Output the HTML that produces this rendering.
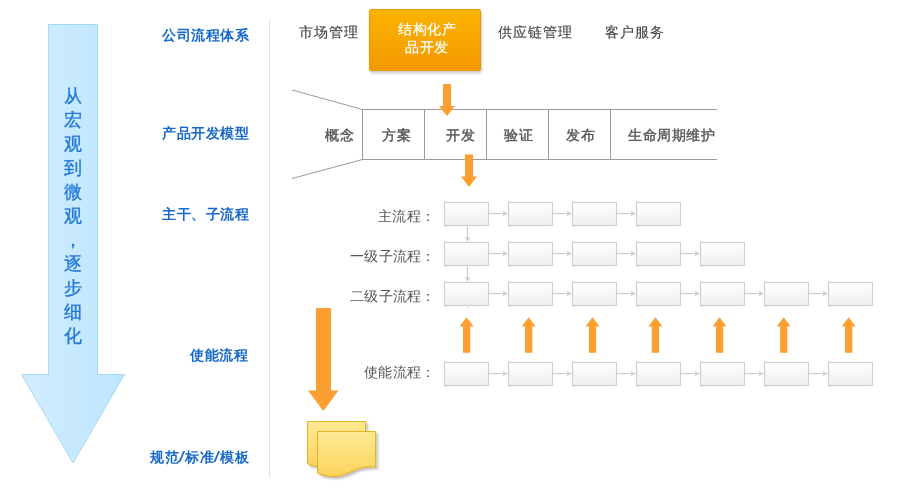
<!DOCTYPE html>
<html><head><meta charset="utf-8">
<style>
html,body{margin:0;padding:0;background:#fff;}
body{width:900px;height:500px;position:relative;overflow:hidden;font-family:"Liberation Sans",sans-serif;}
.t{position:absolute;white-space:nowrap;font-size:14px;line-height:14px;will-change:transform;}
.lbl{color:#1769cc;font-weight:bold;letter-spacing:0.6px;}
.nav{color:#444;letter-spacing:1px;-webkit-text-stroke:0.15px #444;}
.sl{display:inline-block;font-weight:normal;transform:scale(1.7,1.08);margin:0 0.5px 0 0.8px;}
.wt{color:#fff;letter-spacing:1.2px;-webkit-text-stroke:0.25px #fff;}
.stg{color:#555;letter-spacing:1px;-webkit-text-stroke:0.4px #555;}
.row{color:#555;letter-spacing:0.3px;}
svg{position:absolute;left:0;top:0;}
</style></head><body>
<svg width="900" height="500" viewBox="0 0 900 500">
<defs>
<linearGradient id="gBlue" x1="0" y1="0" x2="1" y2="0">
<stop offset="0" stop-color="#d3edfe"/><stop offset="1" stop-color="#bce6fe"/>
</linearGradient>
<linearGradient id="gOr" x1="0" y1="0" x2="0" y2="1">
<stop offset="0" stop-color="#fcb300"/><stop offset="1" stop-color="#f29800"/>
</linearGradient>
<linearGradient id="gBox" x1="0" y1="0" x2="0" y2="1">
<stop offset="0" stop-color="#ffffff"/><stop offset="1" stop-color="#eeeeee"/>
</linearGradient>
<linearGradient id="gDoc" x1="0" y1="0" x2="0" y2="1">
<stop offset="0" stop-color="#fee993"/><stop offset="1" stop-color="#fbd35c"/>
</linearGradient>
<filter id="sh" x="-20%" y="-20%" width="150%" height="150%">
<feGaussianBlur in="SourceAlpha" stdDeviation="1.5"/><feOffset dx="1" dy="2"/>
<feComponentTransfer><feFuncA type="linear" slope="0.22"/></feComponentTransfer>
<feMerge><feMergeNode/><feMergeNode in="SourceGraphic"/></feMerge>
</filter>
<filter id="sh2" x="-20%" y="-20%" width="150%" height="150%">
<feGaussianBlur in="SourceAlpha" stdDeviation="1"/><feOffset dx="1.5" dy="2"/>
<feComponentTransfer><feFuncA type="linear" slope="0.25"/></feComponentTransfer>
<feMerge><feMergeNode/><feMergeNode in="SourceGraphic"/></feMerge>
</filter>
</defs>
<!-- big blue arrow -->
<path d="M48.5 24.5 H97.5 V374.5 H124.5 L73 463 L21.5 374.5 H48.5 Z" fill="url(#gBlue)" stroke="#a6d9f4" stroke-width="1"/>
<!-- vertical divider -->
<line x1="269.5" y1="20" x2="269.5" y2="478" stroke="#e2e2e2" stroke-width="1"/>
<!-- orange box -->
<rect x="369.5" y="9.5" width="111" height="61" rx="1.5" fill="url(#gOr)" stroke="#e99606" stroke-width="1" filter="url(#sh)"/>
<!-- funnel -->
<g stroke="#9a9a9a" stroke-width="1" fill="none">
<line x1="292" y1="90" x2="362.5" y2="109.5"/>
<line x1="292" y1="178.5" x2="362.5" y2="159.5"/>
<path d="M717 109.5 H362.5 V159.5 H717"/>
<line x1="424.5" y1="109.5" x2="424.5" y2="159.5"/>
<line x1="486.5" y1="109.5" x2="486.5" y2="159.5"/>
<line x1="548.5" y1="109.5" x2="548.5" y2="159.5"/>
<line x1="610.5" y1="109.5" x2="610.5" y2="159.5"/>
</g>
<!-- orange down arrows -->
<path d="M443 84 H451 V106 H455 L447 116 L439 106 H443 Z" fill="#fa9f30"/>
<path d="M465 154.5 H473 V176.5 H477 L469 187 L461 176.5 H465 Z" fill="#fa9f30"/>
<path d="M316 308 H331 V390.5 H338.5 L323.3 411 L308 390.5 H316 Z" fill="#fa9f30"/>
<g id="procs">
<rect x="444.5" y="202.5" width="44" height="23" fill="url(#gBox)" stroke="#d0d0d0" stroke-width="1.2"/>
<line x1="489" y1="213.5" x2="506" y2="213.5" stroke="#cdcdcd" stroke-width="1.2"/>
<path d="M502.5 210.5 L508 213.5 L502.5 216.5 L504 213.5 Z" fill="#cdcdcd"/>
<rect x="508.5" y="202.5" width="44" height="23" fill="url(#gBox)" stroke="#d0d0d0" stroke-width="1.2"/>
<line x1="553" y1="213.5" x2="570" y2="213.5" stroke="#cdcdcd" stroke-width="1.2"/>
<path d="M566.5 210.5 L572 213.5 L566.5 216.5 L568 213.5 Z" fill="#cdcdcd"/>
<rect x="572.5" y="202.5" width="44" height="23" fill="url(#gBox)" stroke="#d0d0d0" stroke-width="1.2"/>
<line x1="617" y1="213.5" x2="634" y2="213.5" stroke="#cdcdcd" stroke-width="1.2"/>
<path d="M630.5 210.5 L636 213.5 L630.5 216.5 L632 213.5 Z" fill="#cdcdcd"/>
<rect x="636.5" y="202.5" width="44" height="23" fill="url(#gBox)" stroke="#d0d0d0" stroke-width="1.2"/>
<rect x="444.5" y="242.5" width="44" height="23" fill="url(#gBox)" stroke="#d0d0d0" stroke-width="1.2"/>
<line x1="489" y1="253.5" x2="506" y2="253.5" stroke="#cdcdcd" stroke-width="1.2"/>
<path d="M502.5 250.5 L508 253.5 L502.5 256.5 L504 253.5 Z" fill="#cdcdcd"/>
<rect x="508.5" y="242.5" width="44" height="23" fill="url(#gBox)" stroke="#d0d0d0" stroke-width="1.2"/>
<line x1="553" y1="253.5" x2="570" y2="253.5" stroke="#cdcdcd" stroke-width="1.2"/>
<path d="M566.5 250.5 L572 253.5 L566.5 256.5 L568 253.5 Z" fill="#cdcdcd"/>
<rect x="572.5" y="242.5" width="44" height="23" fill="url(#gBox)" stroke="#d0d0d0" stroke-width="1.2"/>
<line x1="617" y1="253.5" x2="634" y2="253.5" stroke="#cdcdcd" stroke-width="1.2"/>
<path d="M630.5 250.5 L636 253.5 L630.5 256.5 L632 253.5 Z" fill="#cdcdcd"/>
<rect x="636.5" y="242.5" width="44" height="23" fill="url(#gBox)" stroke="#d0d0d0" stroke-width="1.2"/>
<line x1="681" y1="253.5" x2="698" y2="253.5" stroke="#cdcdcd" stroke-width="1.2"/>
<path d="M694.5 250.5 L700 253.5 L694.5 256.5 L696 253.5 Z" fill="#cdcdcd"/>
<rect x="700.5" y="242.5" width="44" height="23" fill="url(#gBox)" stroke="#d0d0d0" stroke-width="1.2"/>
<rect x="444.5" y="282.5" width="44" height="23" fill="url(#gBox)" stroke="#d0d0d0" stroke-width="1.2"/>
<line x1="489" y1="293.5" x2="506" y2="293.5" stroke="#cdcdcd" stroke-width="1.2"/>
<path d="M502.5 290.5 L508 293.5 L502.5 296.5 L504 293.5 Z" fill="#cdcdcd"/>
<rect x="508.5" y="282.5" width="44" height="23" fill="url(#gBox)" stroke="#d0d0d0" stroke-width="1.2"/>
<line x1="553" y1="293.5" x2="570" y2="293.5" stroke="#cdcdcd" stroke-width="1.2"/>
<path d="M566.5 290.5 L572 293.5 L566.5 296.5 L568 293.5 Z" fill="#cdcdcd"/>
<rect x="572.5" y="282.5" width="44" height="23" fill="url(#gBox)" stroke="#d0d0d0" stroke-width="1.2"/>
<line x1="617" y1="293.5" x2="634" y2="293.5" stroke="#cdcdcd" stroke-width="1.2"/>
<path d="M630.5 290.5 L636 293.5 L630.5 296.5 L632 293.5 Z" fill="#cdcdcd"/>
<rect x="636.5" y="282.5" width="44" height="23" fill="url(#gBox)" stroke="#d0d0d0" stroke-width="1.2"/>
<line x1="681" y1="293.5" x2="698" y2="293.5" stroke="#cdcdcd" stroke-width="1.2"/>
<path d="M694.5 290.5 L700 293.5 L694.5 296.5 L696 293.5 Z" fill="#cdcdcd"/>
<rect x="700.5" y="282.5" width="44" height="23" fill="url(#gBox)" stroke="#d0d0d0" stroke-width="1.2"/>
<line x1="745" y1="293.5" x2="762" y2="293.5" stroke="#cdcdcd" stroke-width="1.2"/>
<path d="M758.5 290.5 L764 293.5 L758.5 296.5 L760 293.5 Z" fill="#cdcdcd"/>
<rect x="764.5" y="282.5" width="44" height="23" fill="url(#gBox)" stroke="#d0d0d0" stroke-width="1.2"/>
<line x1="809" y1="293.5" x2="826" y2="293.5" stroke="#cdcdcd" stroke-width="1.2"/>
<path d="M822.5 290.5 L828 293.5 L822.5 296.5 L824 293.5 Z" fill="#cdcdcd"/>
<rect x="828.5" y="282.5" width="44" height="23" fill="url(#gBox)" stroke="#d0d0d0" stroke-width="1.2"/>
<rect x="444.5" y="362.5" width="44" height="23" fill="url(#gBox)" stroke="#d0d0d0" stroke-width="1.2"/>
<line x1="489" y1="373.5" x2="506" y2="373.5" stroke="#d2d2d2" stroke-width="1.2"/>
<path d="M502.5 370.5 L508 373.5 L502.5 376.5 L504 373.5 Z" fill="#d2d2d2"/>
<rect x="508.5" y="362.5" width="44" height="23" fill="url(#gBox)" stroke="#d0d0d0" stroke-width="1.2"/>
<line x1="553" y1="373.5" x2="570" y2="373.5" stroke="#d2d2d2" stroke-width="1.2"/>
<path d="M566.5 370.5 L572 373.5 L566.5 376.5 L568 373.5 Z" fill="#d2d2d2"/>
<rect x="572.5" y="362.5" width="44" height="23" fill="url(#gBox)" stroke="#d0d0d0" stroke-width="1.2"/>
<line x1="617" y1="373.5" x2="634" y2="373.5" stroke="#d2d2d2" stroke-width="1.2"/>
<path d="M630.5 370.5 L636 373.5 L630.5 376.5 L632 373.5 Z" fill="#d2d2d2"/>
<rect x="636.5" y="362.5" width="44" height="23" fill="url(#gBox)" stroke="#d0d0d0" stroke-width="1.2"/>
<line x1="681" y1="373.5" x2="698" y2="373.5" stroke="#d2d2d2" stroke-width="1.2"/>
<path d="M694.5 370.5 L700 373.5 L694.5 376.5 L696 373.5 Z" fill="#d2d2d2"/>
<rect x="700.5" y="362.5" width="44" height="23" fill="url(#gBox)" stroke="#d0d0d0" stroke-width="1.2"/>
<line x1="745" y1="373.5" x2="762" y2="373.5" stroke="#d2d2d2" stroke-width="1.2"/>
<path d="M758.5 370.5 L764 373.5 L758.5 376.5 L760 373.5 Z" fill="#d2d2d2"/>
<rect x="764.5" y="362.5" width="44" height="23" fill="url(#gBox)" stroke="#d0d0d0" stroke-width="1.2"/>
<line x1="809" y1="373.5" x2="826" y2="373.5" stroke="#d2d2d2" stroke-width="1.2"/>
<path d="M822.5 370.5 L828 373.5 L822.5 376.5 L824 373.5 Z" fill="#d2d2d2"/>
<rect x="828.5" y="362.5" width="44" height="23" fill="url(#gBox)" stroke="#d0d0d0" stroke-width="1.2"/>
<line x1="467.5" y1="226" x2="467.5" y2="239" stroke="#cdcdcd" stroke-width="1.2"/>
<path d="M464.5 236.5 L467.5 242 L470.5 236.5 L467.5 238 Z" fill="#cdcdcd"/>
<line x1="467.5" y1="266" x2="467.5" y2="279" stroke="#cdcdcd" stroke-width="1.2"/>
<path d="M464.5 276.5 L467.5 282 L470.5 276.5 L467.5 278 Z" fill="#cdcdcd"/>
<line x1="467.5" y1="306" x2="467.5" y2="308" stroke="#d8d8d8" stroke-width="1"/>
<path d="M466.6 317.3 L473.6 326.6 H470.20000000000005 V352.8 H463.0 V326.6 H459.6 Z" fill="#fa9f30"/>
<path d="M528.7 317.3 L535.7 326.6 H532.3000000000001 V352.8 H525.1 V326.6 H521.7 Z" fill="#fa9f30"/>
<path d="M592.5 317.3 L599.5 326.6 H596.1 V352.8 H588.9 V326.6 H585.5 Z" fill="#fa9f30"/>
<path d="M655.4 317.3 L662.4 326.6 H659.0 V352.8 H651.8 V326.6 H648.4 Z" fill="#fa9f30"/>
<path d="M719.6 317.3 L726.6 326.6 H723.2 V352.8 H716.0 V326.6 H712.6 Z" fill="#fa9f30"/>
<path d="M783.7 317.3 L790.7 326.6 H787.3000000000001 V352.8 H780.1 V326.6 H776.7 Z" fill="#fa9f30"/>
<path d="M848.7 317.3 L855.7 326.6 H852.3000000000001 V352.8 H845.1 V326.6 H841.7 Z" fill="#fa9f30"/>
</g>
<!-- docs -->
<g filter="url(#sh2)">
<path d="M307.5 421.5 H365.5 V460 L317 466.5 C313 466 310 465 307.5 463.5 Z" fill="url(#gDoc)" stroke="#e3b52c" stroke-width="1.1"/>
<path d="M317.5 431.5 H375.5 V467 C368 466.5 362 467 355 470 C347 474 340 477 332 476.5 C325 476 320 474.5 317.5 472.5 Z" fill="url(#gDoc)" stroke="#e3b52c" stroke-width="1.1"/>
</g>
</svg>
<div class="t" style="left:53px;top:84px;width:40px;text-align:center;color:#2378d8;font-size:18px;line-height:24px;-webkit-text-stroke:0.35px #2378d8;">从<br>宏<br>观<br>到<br>微<br>观<br>，<br>逐<br>步<br>细<br>化</div>

<div class="t lbl" style="left:162px;top:27.5px;">公司流程体系</div>
<div class="t lbl" style="left:162px;top:125.5px;">产品开发模型</div>
<div class="t lbl" style="left:162px;top:206.5px;">主干、子流程</div>
<div class="t lbl" style="left:190px;top:347.5px;">使能流程</div>
<div class="t lbl" style="left:150px;top:449.5px;">规范<span class="sl">/</span>标准<span class="sl">/</span>模板</div>

<div class="t nav" style="left:299px;top:25px;">市场管理</div>
<div class="t wt" style="left:397.5px;top:21.5px;letter-spacing:0.7px;">结构化产</div>
<div class="t wt" style="left:405px;top:40px;letter-spacing:0.7px;">品开发</div>
<div class="t nav" style="left:498px;top:25px;">供应链管理</div>
<div class="t nav" style="left:605px;top:25px;">客户服务</div>

<div class="t stg" style="left:325px;top:128px;">概念</div>
<div class="t stg" style="left:382px;top:128px;">方案</div>
<div class="t stg" style="left:446px;top:128px;">开发</div>
<div class="t stg" style="left:504px;top:128px;">验证</div>
<div class="t stg" style="left:566px;top:128px;">发布</div>
<div class="t stg" style="left:628px;top:128px;letter-spacing:0.6px;">生命周期维护</div>

<div class="t row" style="left:378px;top:209px;">主流程：</div>
<div class="t row" style="left:350px;top:249px;">一级子流程：</div>
<div class="t row" style="left:350px;top:289px;">二级子流程：</div>
<div class="t row" style="left:364px;top:365px;">使能流程：</div>
</body></html>
